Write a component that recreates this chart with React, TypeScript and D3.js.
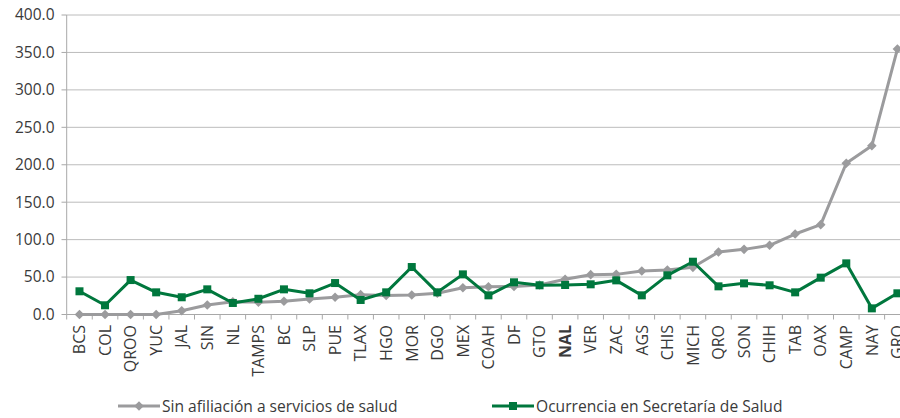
import React from "react";
import * as d3 from "d3";

const categories = ["BCS","COL","QROO","YUC","JAL","SIN","NL","TAMPS","BC","SLP","PUE","TLAX","HGO","MOR","DGO","MEX","COAH","DF","GTO","NAL","VER","ZAC","AGS","CHIS","MICH","QRO","SON","CHIH","TAB","OAX","CAMP","NAY","GRO"];
const sinAfiliacion = [0,0,0,0,5,12.7,17,16.5,17.6,20.7,23,26.5,25.5,26,28.3,35.8,37.1,37.5,39.4,47,53.2,53.6,58,59.4,63,83.4,87,92.4,107.5,120,202,225.4,354.5];
const ocurrencia = [31,12.3,46,29.6,23,33.6,15.4,21,33.6,28.3,42,19.4,29.6,63.4,29.6,53.6,25.6,43,39,39.4,40.3,45.6,25.6,52.3,70.5,37.6,41.6,39,29.6,49.2,68.3,8.2,28.3];
const yTicks = [0,50,100,150,200,250,300,350,400];
const seriesNames = ["Sin afiliación a servicios de salud","Ocurrencia en Secretaría de Salud"];

const W = 900, H = 418;
const GRAY = "#9b9b9d";
const GREEN = "#00773d";
const TEXT = "#3a3a3a";
const FONT = "'Open Sans', 'Noto Sans', sans-serif";

export default function App() {
  const x = d3.scaleBand<string>().domain(categories).range([66.7, 66.7 + 33 * 25.56]).padding(0);
  const y = d3.scaleLinear().domain([0, 400]).range([314.5, 15]);
  const cx = (c: string) => (x(c) as number) + x.bandwidth() / 2;
  const line = d3.line<number>().x((_, i) => cx(categories[i])).y(d => y(d));
  const diamond = (px: number, py: number, r: number) => `M${px},${py - r}L${px + r},${py}L${px},${py + r}L${px - r},${py}Z`;

  return (
    <svg width={W} height={H} style={{ position: "absolute", left: 0, top: 0, background: "#fff" }} fontFamily={FONT}>
      {yTicks.map(t => (
        <g key={t}>
          {t > 0 && <line x1={66.7} x2={W} y1={y(t)} y2={y(t)} stroke="#bcbcbc" strokeWidth={1} />}
          <line x1={61.5} x2={66.7} y1={y(t)} y2={y(t)} stroke="#a8a8a8" strokeWidth={1} />
          <text x={54.5} y={y(t)} dy="0.35em" textAnchor="end" fontSize={15.5} fill={TEXT}>{t.toFixed(1)}</text>
        </g>
      ))}
      <line x1={66.7} x2={66.7} y1={y(400)} y2={y(0)} stroke="#a8a8a8" strokeWidth={1} />
      <line x1={66.7} x2={W} y1={y(0)} y2={y(0)} stroke="#a8a8a8" strokeWidth={1} />
      {categories.map(c => (
        <line key={"tk" + c} x1={x(c) as number} x2={x(c) as number} y1={y(0)} y2={y(0) + 5} stroke="#a8a8a8" strokeWidth={1} />
      ))}
      {categories.map(c => (
        <text key={"lb" + c} transform={`translate(${cx(c)},${325}) rotate(-90)`} dy="0.36em" textAnchor="end"
          fontSize={16} fill={TEXT} fontWeight={c === "NAL" ? "bold" : "normal"}>{c}</text>
      ))}
      <path d={line(sinAfiliacion) || ""} fill="none" stroke={GRAY} strokeWidth={3} strokeLinejoin="round" />
      {sinAfiliacion.map((v, i) => (
        <path key={"d" + i} d={diamond(cx(categories[i]), y(v), 4.8)} fill={GRAY} />
      ))}
      <path d={line(ocurrencia) || ""} fill="none" stroke={GREEN} strokeWidth={3} strokeLinejoin="round" />
      {ocurrencia.map((v, i) => (
        <rect key={"s" + i} x={cx(categories[i]) - 4} y={y(v) - 4} width={8} height={8} fill={GREEN} />
      ))}
      <g transform="translate(118,406)">
        <line x1={0} x2={42} y1={0} y2={0} stroke={GRAY} strokeWidth={3} />
        <path d={diamond(21, 0, 4.8)} fill={GRAY} />
        <text x={44} y={0} dy="0.36em" fontSize={15.6} fill={TEXT}>{seriesNames[0]}</text>
      </g>
      <g transform="translate(492,406)">
        <line x1={0} x2={42} y1={0} y2={0} stroke={GREEN} strokeWidth={3} />
        <rect x={17} y={-4} width={8} height={8} fill={GREEN} />
        <text x={44} y={0} dy="0.36em" fontSize={15.6} fill={TEXT}>{seriesNames[1]}</text>
      </g>
    </svg>
  );
}
